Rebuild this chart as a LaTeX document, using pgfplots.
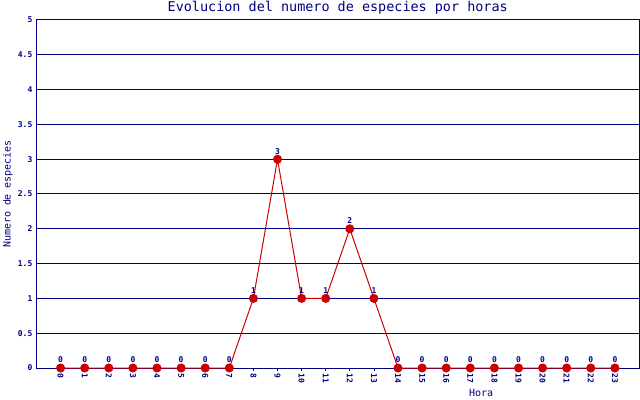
\documentclass[border=0pt]{standalone}
\usepackage{fontspec}
\setmainfont{DejaVu Sans Mono}
\usepackage{pgfplots}
\pgfplotsset{compat=1.18}
\definecolor{navy}{RGB}{0,0,128}
\definecolor{dotred}{RGB}{204,0,0}

\begin{document}
\begin{tikzpicture}
\begin{axis}[
  at={(36.5bp,32bp)}, anchor=south west,
  scale only axis, width=602.5bp, height=348bp,
  xmin=-1, xmax=24, ymin=0, ymax=5,
  xtick={0,...,23},
  ytick={0,0.5,1,1.5,2,2.5,3,3.5,4,4.5,5},
  /pgf/number format/assume math mode=true,
  axis line style={navy, line width=1bp},
  ymajorgrids, grid style={navy, line width=1bp},
  xtick style={navy, line width=0.8bp},
  ytick style={draw=none},
  xtick pos=bottom, ytick pos=left,
  xtick align=outside, major tick length=3bp,
  tick label style={navy, font=\fontsize{8}{8}\selectfont\bfseries},
  xticklabel style={rotate=-90, anchor=west, inner sep=0bp, outer sep=2.5bp},
  yticklabel style={anchor=east, inner sep=1bp, xshift=-3bp},
  every axis title shift=0pt,
  title={Evolucion del numero de especies por horas},
  title style={at={(axis description cs:0.5,1.0345)}, anchor=center, inner sep=0pt, navy, font=\fontsize{13.5}{13.5}\selectfont},
  xlabel={Hora},
  xlabel style={at={(axis description cs:0.738,-0.072)}, anchor=center, navy, font=\fontsize{10}{10}\selectfont},
  ylabel={Numero de especies},
  ylabel style={at={(axis description cs:-0.0473,0.5)}, anchor=center, navy, font=\fontsize{10}{10}\selectfont},
  nodes near coords,
  nodes near coords style={anchor=south, inner sep=0bp, yshift=4.5bp, navy, font=\fontsize{8}{8}\selectfont\bfseries},
  clip=false,
]
\addplot[dotred, line width=1bp, mark=*, mark size=4bp, mark options={fill=dotred, draw=dotred}]
coordinates {
(0,0) (1,0) (2,0) (3,0) (4,0) (5,0) (6,0) (7,0)
(8,1) (9,3) (10,1) (11,1) (12,2) (13,1)
(14,0) (15,0) (16,0) (17,0) (18,0) (19,0) (20,0) (21,0) (22,0) (23,0)
};
\end{axis}
\pgfresetboundingbox
\useasboundingbox (0,0) rectangle (640bp,400bp);
\end{tikzpicture}
\end{document}
